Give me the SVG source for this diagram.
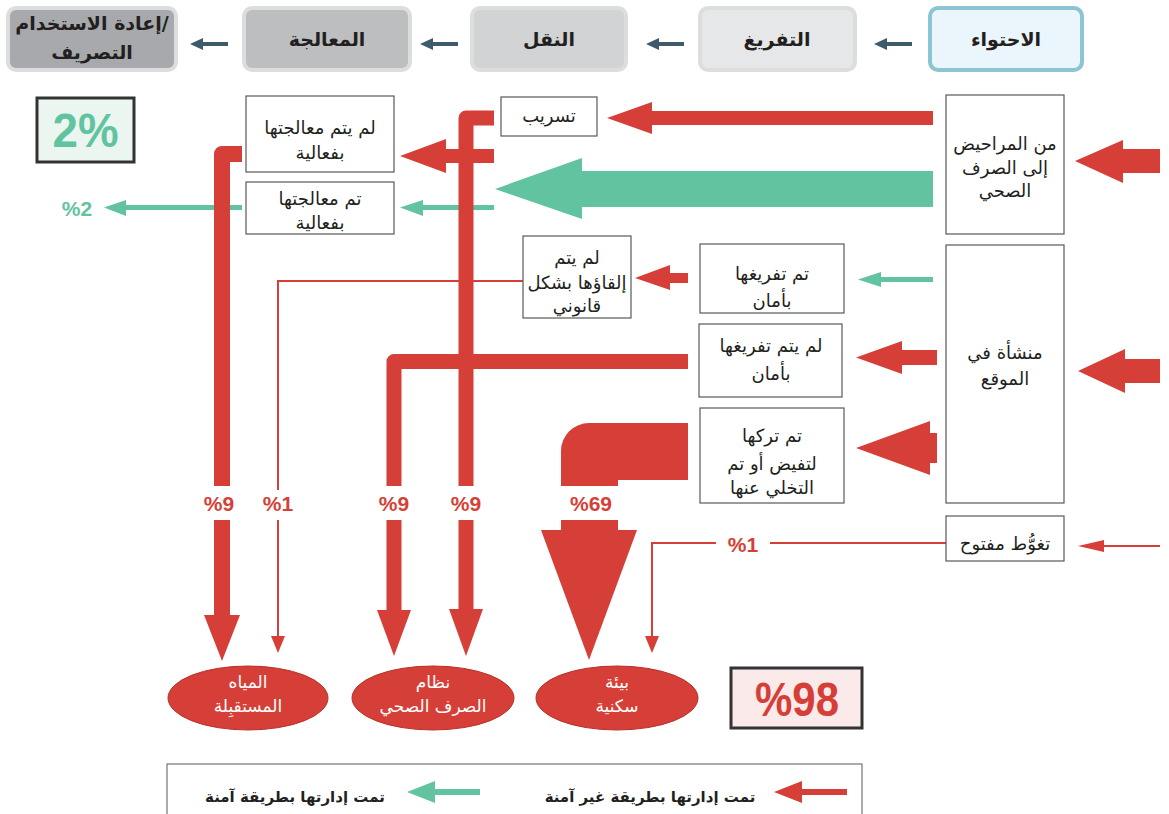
<svg xmlns="http://www.w3.org/2000/svg" width="1169" height="814" viewBox="0 0 1169 814">
<style>
.hd{stroke:#dcdddd;stroke-width:4}
.hdt{font-family:"DejaVu Sans",sans-serif;font-weight:bold;font-size:19px;fill:#231f20;text-anchor:middle}
.bx{fill:#fff;stroke:#58595b;stroke-width:1.2}
.t{font-family:"DejaVu Sans",sans-serif;font-size:18px;fill:#231f20;text-anchor:middle}
.wt{font-family:"DejaVu Sans",sans-serif;font-size:17px;fill:#fff;text-anchor:middle}
.pc{font-family:"Liberation Sans",Arial,sans-serif;font-weight:bold;font-size:21px;fill:#d63f37;text-anchor:middle}
.red{fill:#d63f37}
.grn{fill:#62c3a0}
.rs{fill:none;stroke:#d63f37}
.lg{font-family:"DejaVu Sans",sans-serif;font-weight:bold;font-size:15px;fill:#231f20;text-anchor:middle}
</style>

<!-- header stages -->
<g id="stage-reuse">
<rect class="hd" x="8" y="8" width="168" height="62" rx="8" fill="#a7a9ac"/>
<text class="hdt" x="92" y="30" direction="ltr">&#x200E;إعادة الاستخدام/</text>
<text class="hdt" x="92" y="59">التصريف</text>
</g>
<g id="stage-treatment">
<rect class="hd" x="244" y="8" width="166" height="62" rx="8" fill="#bcbec0"/>
<text class="hdt" x="327" y="46">المعالجة</text>
</g>
<g id="stage-transport">
<rect class="hd" x="472" y="8" width="154" height="62" rx="8" fill="#d1d3d4"/>
<text class="hdt" x="549" y="46">النقل</text>
</g>
<g id="stage-emptying">
<rect class="hd" x="700" y="8" width="155" height="62" rx="8" fill="#e6e7e8"/>
<text class="hdt" x="777" y="46">التفريغ</text>
</g>
<g id="stage-containment">
<rect x="930" y="8" width="152" height="62" rx="8" fill="#eaf6fb" stroke="#8cc4d4" stroke-width="4"/>
<text class="hdt" x="1006" y="46">الاحتواء</text>
</g>

<!-- totals -->
<g id="total-safe">
<rect x="37" y="98" width="97" height="64" fill="#eaf6ef" stroke="#333" stroke-width="3"/>
<text x="85.5" y="147" font-family="'Liberation Sans',Arial,sans-serif" font-weight="bold" font-size="48" fill="#62c3a0" text-anchor="middle" textLength="66" lengthAdjust="spacingAndGlyphs">2%</text>
</g>
<g id="total-unsafe">
<rect x="731" y="668" width="131" height="60" fill="#fbeaea" stroke="#333" stroke-width="3"/>
<text x="797" y="716" font-family="'Liberation Sans',Arial,sans-serif" font-weight="bold" font-size="48" fill="#d63f37" text-anchor="middle" textLength="84" lengthAdjust="spacingAndGlyphs">%98</text>
</g>

<!-- connectors -->
<g id="connectors">
<g fill="#3e5b6b">
<polygon points="228,42 203,42 203,38 190,44 203,50 203,46 228,46"/>
<polygon points="458,42 433,42 433,38 420,44 433,50 433,46 458,46"/>
<polygon points="684,42 659,42 659,38 646,44 659,50 659,46 684,46"/>
<polygon points="912,42 887,42 887,38 874,44 887,50 887,46 912,46"/>
</g>
<polygon class="red" points="1160,149 1123,149 1123,140 1075,161 1123,183 1123,173 1160,173"/>
<polygon class="red" points="1160,359 1125,359 1125,349 1078,371 1125,393 1125,383 1160,383"/>
<polygon class="red" points="1160,545 1104,545 1104,540 1078,546 1104,552 1104,547 1160,547"/>
<polygon class="red" points="933,111 652,111 652,102 607,118 652,134 652,125 933,125"/>
<polygon class="grn" points="933,171 582,171 582,158 495,189 582,219 582,207 933,207"/>
<polygon class="grn" points="933,277 881,277 881,272 858,279.5 881,287 881,282 933,282"/>
<polygon class="red" points="937,350 902,350 902,341 856,357.5 902,374 902,365 937,365"/>
<polygon class="red" points="937,433 930,433 930,421 856,448 930,475 930,463 937,463"/>
<polygon class="red" points="688,273 670,273 670,265 635,278 670,290 670,283 688,283"/>
<polygon class="grn" points="494,205 423,205 423,200 400,207.5 423,216 423,210 494,210"/>
<polygon class="grn" points="242,205 126,205 126,200 104,207.5 126,216 126,210 242,210"/>

<path class="rs" stroke-width="2" d="M523,281 H278 V490 M278,520 V638"/>
<polygon class="red" points="271,636 285,636 278,653"/>

<path class="rs" stroke-width="16" stroke-linejoin="round" d="M242,154 H222 V486"/>
<path class="rs" stroke-width="16" d="M222,520 V616"/>
<polygon class="red" points="204,615 240,615 222,661"/>

<path class="rs" stroke-width="15" stroke-linejoin="round" d="M688,361.5 H394 V486"/>
<path class="rs" stroke-width="15" d="M394,520 V611"/>
<polygon class="red" points="377,610 411,610 394,656"/>

<path class="rs" stroke-width="15" stroke-linejoin="round" d="M494,118 H466 V486"/>
<path class="rs" stroke-width="15" d="M466,520 V610"/>
<polygon class="red" points="449,609 483,609 466,656"/>

<polygon class="red" points="494,149 446,149 446,139 400,156 446,173 446,163 494,163"/>

<path class="red" d="M688,423 H589 A28,28 0 0 0 561,451 V486 H618 V480 H688 Z"/>
<rect class="red" x="561" y="520" width="57" height="11"/>
<polygon class="red" points="541,530 637,530 589,660"/>

<path class="rs" stroke-width="2" d="M946,543 H770 M716,543 H652 V638"/>
<polygon class="red" points="645,636 659,636 652,653"/>

<text class="pc" x="219" y="511">%9</text>
<text class="pc" x="278" y="511">%1</text>
<text class="pc" x="394" y="511">%9</text>
<text class="pc" x="466" y="511">%9</text>
<text class="pc" x="591" y="511">%69</text>
<text class="pc" x="743" y="552">%1</text>
<text class="pc" x="77" y="216" style="fill:#62c3a0">%2</text>
</g>

<!-- nodes -->
<g id="leakage">
<rect class="bx" x="501" y="97" width="96" height="39"/>
<text class="t" x="549" y="122">تسريب</text>
</g>
<g id="not-treated">
<rect class="bx" x="246" y="96" width="148" height="76"/>
<text class="t" x="320" y="134">لم يتم معالجتها</text>
<text class="t" x="320" y="159">بفعالية</text>
</g>
<g id="treated">
<rect class="bx" x="246" y="182" width="148" height="52"/>
<text class="t" x="320" y="205">تم معالجتها</text>
<text class="t" x="320" y="229">بفعالية</text>
</g>
<g id="not-disposed">
<rect class="bx" x="523" y="236" width="108" height="82"/>
<text class="t" x="577" y="264">لم يتم</text>
<text class="t" x="577" y="289">إلقاؤها بشكل</text>
<text class="t" x="577" y="312">قانوني</text>
</g>
<g id="emptied-safely">
<rect class="bx" x="700" y="244" width="144" height="69"/>
<text class="t" x="772" y="280">تم تفريغها</text>
<text class="t" x="772" y="307">بأمان</text>
</g>
<g id="not-emptied-safely">
<rect class="bx" x="699" y="324" width="143" height="73"/>
<text class="t" x="771" y="352">لم يتم تفريغها</text>
<text class="t" x="771" y="380">بأمان</text>
</g>
<g id="abandoned">
<rect class="bx" x="700" y="408" width="144" height="95"/>
<text class="t" x="772" y="442">تم تركها</text>
<text class="t" x="772" y="470">لتفيض أو تم</text>
<text class="t" x="772" y="494">التخلي عنها</text>
</g>
<g id="toilets-to-sewer">
<rect class="bx" x="946" y="95" width="118" height="139"/>
<text class="t" x="1005" y="150">من المراحيض</text>
<text class="t" x="1005" y="174">إلى الصرف</text>
<text class="t" x="1005" y="197">الصحي</text>
</g>
<g id="onsite">
<rect class="bx" x="946" y="245" width="118" height="258"/>
<text class="t" x="1005" y="359">منشأة في</text>
<text class="t" x="1005" y="385">الموقع</text>
</g>
<g id="open-defecation">
<rect class="bx" x="946" y="516" width="118" height="45"/>
<text class="t" x="1005" y="550">تغوُّط مفتوح</text>
</g>

<!-- destinations -->
<g id="receiving-water">
<ellipse cx="248" cy="698" rx="80" ry="32" fill="#d63f37" stroke="#b8302a" stroke-width="1"/>
<text class="wt" x="248" y="688">المياه</text>
<text class="wt" x="248" y="712">المستقبِلة</text>
</g>
<g id="sewer-system">
<ellipse cx="433" cy="698" rx="81" ry="32" fill="#d63f37" stroke="#b8302a" stroke-width="1"/>
<text class="wt" x="433" y="688">نظام</text>
<text class="wt" x="433" y="712">الصرف الصحي</text>
</g>
<g id="residential">
<ellipse cx="617" cy="698" rx="81" ry="32" fill="#d63f37" stroke="#b8302a" stroke-width="1"/>
<text class="wt" x="617" y="688">بيئة</text>
<text class="wt" x="617" y="712">سكنية</text>
</g>

<!-- legend -->
<g id="legend">
<rect x="167" y="764" width="695" height="70" fill="#fff" stroke="#58595b" stroke-width="1"/>
<polygon class="red" points="847,789 802,789 802,781 774,792 802,803 802,795 847,795"/>
<text class="lg" x="650" y="802">تمت إدارتها بطريقة غير آمنة</text>
<polygon class="grn" points="480,789 435,789 435,781 407,792 435,803 435,795 480,795"/>
<text class="lg" x="295" y="802">تمت إدارتها بطريقة آمنة</text>
</g>
</svg>
